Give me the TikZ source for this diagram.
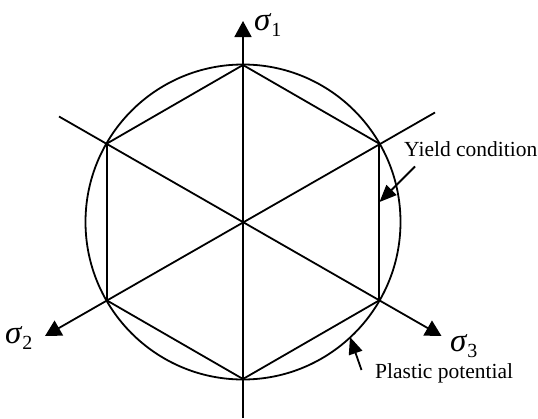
\documentclass[tikz,border=0pt]{standalone}
\usepackage{fontspec}
\setmainfont{Liberation Serif}
\usetikzlibrary{arrows.meta}
\tikzset{
  ln/.style={line width=1.8pt, line join=miter},
  axis/.style={ln, -{Triangle[length=16pt,width=17pt]}},
  pointer/.style={line width=1.8pt, -{Triangle[length=17pt,width=14pt]}},
  lbl/.style={inner sep=0pt, font=\fontsize{21.5}{24}\selectfont},
  sig/.style={inner sep=0pt, font=\fontsize{33}{36}\selectfont}
}
\newcommand{\sgm}[1]{{\itshape σ}\hspace{1pt}\raisebox{-0.35ex}{\fontsize{20}{22}\selectfont #1}}
\begin{document}
\begin{tikzpicture}[x=1pt,y=-1pt]
\useasboundingbox (0,0) rectangle (538,418);
\coordinate (c) at (243,222);
% hexagon vertices
\coordinate (v1) at (243,65);
\coordinate (v2) at (107,143.5);
\coordinate (v3) at (107,300.5);
\coordinate (v4) at (243,379);
\coordinate (v5) at (379,300.5);
\coordinate (v6) at (379,143.5);
% circle
\draw[ln] (c) circle[radius=157.5];
\draw[ln] (v1) -- (v2) -- (v3) -- (v4) -- (v5) -- (v6) -- cycle;
% axis ends
\coordinate (a1) at (243,21);
\coordinate (b1) at (243,418);
\coordinate (a2) at (45,336);
\coordinate (b2) at (435,112.5);
\coordinate (a3) at (441.5,336);
\coordinate (b3) at (59,116.5);
\draw[axis] (b1) -- (a1);
\draw[axis] (b2) -- (a2);
\draw[axis] (b3) -- (a3);
% labels
\node[sig, anchor=west] (s1) at (254,25) {\sgm{1}};
\node[sig, anchor=west] (s2) at (5,338) {\sgm{2}};
\node[sig, anchor=west] (s3) at (450,346) {\sgm{3}};
\node[lbl, anchor=west] (yc) at (404,149) {Yield condition};
\node[lbl, anchor=west] (pp) at (375,373) {Plastic potential};
% pointers
\coordinate (yct) at (415,166.5);
\coordinate (ych) at (379.5,202);
\draw[pointer] (yct) -- (ych);
\coordinate (ppt) at (361.5,370);
\coordinate (pph) at (350,337);
\draw[pointer] (ppt) -- (pph);
\end{tikzpicture}
\end{document}
